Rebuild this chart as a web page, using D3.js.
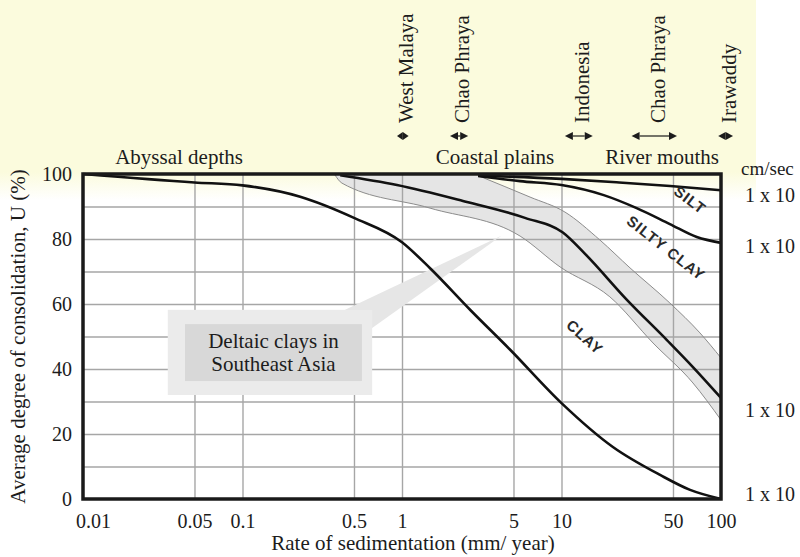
<!DOCTYPE html>
<html>
<head>
<meta charset="utf-8">
<script src="https://cdn.jsdelivr.net/npm/d3@7"></script>
<style>
  body { margin: 0; background: #ffffff; }
  svg { display: block; }
</style>
</head>
<body>
<svg id="chart" width="800" height="557"></svg>
<script>
// Average degree of consolidation vs. rate of sedimentation (log scale)

// ---- axes ----
const xTickValues = [0.01, 0.05, 0.1, 0.5, 1, 5, 10, 50, 100];
const xTickLabels = ["0.01", "0.05", "0.1", "0.5", "1", "5", "10", "50", "100"];
const xGridValues = [0.05, 0.1, 0.5, 1, 5, 10, 50];
const yTickValues = [0, 20, 40, 60, 80, 100];
const yGridValues = [10, 20, 30, 40, 50, 60, 70, 80, 90];

// ---- consolidation curves: [rate mm/year, U %] ----
const uSilt = [[3.0, 99.5], [10, 98.5], [23, 97.4], [48, 96.3], [100, 95.0]];
const uSiltyClay = [[3.0, 99.4], [5.5, 97.8], [10, 96.6], [18.4, 93.5], [29.6, 89.5], [47.8, 84.6], [70.5, 80.6], [100, 78.8]];
const uClay = [[0.41, 99.6], [0.93, 96.6], [2.41, 91.7], [5.9, 86.5], [10.2, 82], [14, 75.5], [25.8, 61.2], [45.8, 48.9], [66.7, 40.6], [100, 31.1]];
const uTightClay = [[0.01, 100], [0.05, 97.4], [0.1, 96.5], [0.23, 93], [0.5, 86.5], [1, 79], [1.5, 71], [2.7, 58], [4.75, 46], [10, 29.5], [21, 16], [41.5, 7.4], [64, 2.8], [100, 0]];

// ---- envelope of deltaic clays ----
const deltaicUpper = [[3.0, 99.5], [6.35, 92.9], [10.5, 88.3], [17.4, 79.7], [26.9, 71.1], [47.8, 60.3], [73.8, 51.1], [100, 43.4]];
const deltaicLower = [[0.38, 99.7], [0.42, 97.2], [1.5, 89.5], [5.5, 80.9], [9.8, 71.4], [20.1, 62.2], [37.5, 48], [66.7, 35.7], [100, 24.3]];

// ---- curve names ----
const curveNames = ["SILT", "SILTY CLAY", "CLAY"];
const curveNameAt = [[64, 92], [45.2, 77.2], [14, 49.8]];
const curveNameAngle = [37, 38, 42];

// ---- permeability labels on the right ----
const permLabels = ["1 x 10", "1 x 10", "1 x 10", "1 x 10"];
const permLabelU = [93.5, 78, 27.5, 1.5];

// ---- environments and deltas above the plot ----
const envNames = ["Abyssal depths", "Coastal plains", "River mouths"];
const envCenters = [0.04, 3.83, 42.7];
const deltaNames = ["West Malaya", "Chao Phraya", "Indonesia", "Chao Phraya", "Irawaddy"];
const deltaRanges = [[0.93, 1.1], [2.0, 2.6], [10.5, 15.7], [27.5, 53], [96, 119]];

// ---- callout ----
const calloutLines = ["Deltaic clays in", "Southeast Asia"];
const calloutOuter = { x0: 0.034, x1: 0.65, u0: 32, u1: 58.2 };
const calloutInner = { x0: 0.0436, x1: 0.561, u0: 36.3, u1: 53.8 };
const calloutPointer = [[0.44, 58.2], [0.65, 52.6], [4.2, 81]];

// ---- layout ----
const width = 800, height = 557;
const plot = { left: 83, right: 721, top: 174, bottom: 499 };
const serif = "'Liberation Serif', 'Times New Roman', serif";
const ink = "#1c1c1c";

const svg = d3.select("#chart");
const x = d3.scaleLog().domain([0.01, 100]).range([plot.left, plot.right]);
const y = d3.scaleLinear().domain([0, 100]).range([plot.bottom, plot.top]);

// pale header tint
const defs = svg.append("defs");
const grad = defs.append("linearGradient").attr("id", "tint")
  .attr("x1", 0).attr("x2", 0).attr("y1", 0).attr("y2", 1);
grad.append("stop").attr("offset", "0%").attr("stop-color", "#fbfbdd");
grad.append("stop").attr("offset", "86%").attr("stop-color", "#fbfbdd");
grad.append("stop").attr("offset", "100%").attr("stop-color", "#fbfbdd").attr("stop-opacity", 0);
svg.append("rect").attr("x", 0).attr("y", 0).attr("width", 756).attr("height", 200)
  .attr("fill", "url(#tint)");

const line = d3.line().x(d => x(d[0])).y(d => y(d[1])).curve(d3.curveMonotoneX);

// deltaic clay envelope (fill)
const bandPath = line(deltaicLower) + "L" + line(deltaicUpper.slice().reverse()).slice(1) + "Z";
svg.append("path").attr("d", bandPath).attr("fill", "#e5e5e5").attr("stroke", "none");

// grid
const gridX = svg.append("g").attr("transform", `translate(0,${plot.bottom})`)
  .call(d3.axisBottom(x).tickValues(xGridValues).tickSize(-(plot.bottom - plot.top)).tickFormat(""));
gridX.select(".domain").remove();
gridX.selectAll("line").attr("stroke", "#a6a6a6").attr("stroke-width", 1.4);

const gridY = svg.append("g").attr("transform", `translate(${plot.left},0)`)
  .call(d3.axisLeft(y).tickValues(yGridValues).tickSize(-(plot.right - plot.left)).tickFormat(""));
gridY.select(".domain").remove();
gridY.selectAll("line").attr("stroke", "#a6a6a6").attr("stroke-width", 1.4);

// envelope edges
[deltaicUpper, deltaicLower].forEach(edge => {
  svg.append("path").attr("d", line(edge)).attr("fill", "none")
    .attr("stroke", "#8c8c8c").attr("stroke-width", 1);
});

// callout
svg.append("polygon")
  .attr("points", calloutPointer.map(p => [x(p[0]), y(p[1])].join(",")).join(" "))
  .attr("fill", "#e6e6e6");
svg.append("rect")
  .attr("x", x(calloutOuter.x0)).attr("y", y(calloutOuter.u1))
  .attr("width", x(calloutOuter.x1) - x(calloutOuter.x0))
  .attr("height", y(calloutOuter.u0) - y(calloutOuter.u1))
  .attr("fill", "#ebebeb");
svg.append("rect")
  .attr("x", x(calloutInner.x0)).attr("y", y(calloutInner.u1))
  .attr("width", x(calloutInner.x1) - x(calloutInner.x0))
  .attr("height", y(calloutInner.u0) - y(calloutInner.u1))
  .attr("fill", "#d8d8d8");
const calloutCx = (x(calloutInner.x0) + x(calloutInner.x1)) / 2;
const calloutCy = (y(calloutInner.u0) + y(calloutInner.u1)) / 2;
svg.append("text")
  .attr("x", calloutCx).attr("y", calloutCy)
  .attr("text-anchor", "middle")
  .attr("font-family", serif).attr("font-size", 21).attr("fill", ink)
  .selectAll("tspan").data(calloutLines).join("tspan")
  .attr("x", calloutCx)
  .attr("dy", (d, i) => i === 0 ? "-0.22em" : "1.1em")
  .text(d => d);

// consolidation curves
[uSilt, uSiltyClay, uClay, uTightClay].forEach(c => {
  svg.append("path").attr("d", line(c)).attr("fill", "none")
    .attr("stroke", "#111").attr("stroke-width", 2.6).attr("stroke-linejoin", "round");
});

// frame
svg.append("rect")
  .attr("x", plot.left).attr("y", plot.top)
  .attr("width", plot.right - plot.left).attr("height", plot.bottom - plot.top)
  .attr("fill", "none").attr("stroke", "#1a1a1a").attr("stroke-width", 3.5);

// curve names
svg.append("g").selectAll("text").data(curveNames).join("text")
  .attr("transform", (d, i) => `translate(${x(curveNameAt[i][0])},${y(curveNameAt[i][1])}) rotate(${curveNameAngle[i]})`)
  .attr("text-anchor", "middle").attr("dy", "0.35em")
  .attr("font-family", "'Liberation Sans', Arial, sans-serif")
  .attr("font-weight", "bold").attr("font-size", 15).attr("letter-spacing", 1)
  .attr("fill", "#2a2a2a")
  .text(d => d);

// x axis
const axX = svg.append("g").attr("transform", `translate(0,${plot.bottom})`)
  .call(d3.axisBottom(x).tickValues(xTickValues).tickSize(0).tickPadding(0)
    .tickFormat((d, i) => xTickLabels[i]));
axX.select(".domain").remove();
axX.selectAll("text")
  .attr("font-family", serif).attr("font-size", 20).attr("fill", ink)
  .attr("dy", null).attr("y", 29)
  .attr("dx", (d, i) => i === 0 ? 10 : 0);

// y axis
const axY = svg.append("g").attr("transform", `translate(${plot.left},0)`)
  .call(d3.axisLeft(y).tickValues(yTickValues).tickSize(0).tickPadding(11));
axY.select(".domain").remove();
axY.selectAll("text").attr("font-family", serif).attr("font-size", 20).attr("fill", ink);

// axis titles
svg.append("text")
  .attr("x", (plot.left + plot.right) / 2 + 11).attr("y", 550)
  .attr("text-anchor", "middle")
  .attr("font-family", serif).attr("font-size", 21).attr("fill", ink)
  .text("Rate of sedimentation (mm/ year)");
svg.append("text")
  .attr("transform", `translate(18,${(plot.top + plot.bottom) / 2}) rotate(-90)`)
  .attr("text-anchor", "middle").attr("dy", "0.35em")
  .attr("font-family", serif).attr("font-size", 21).attr("fill", ink)
  .text("Average degree of consolidation, U (%)");

// permeability scale on the right
svg.append("text").attr("x", plot.right + 20).attr("y", 175)
  .attr("font-family", serif).attr("font-size", 19).attr("fill", ink).text("cm/sec");
svg.append("g").selectAll("text").data(permLabels).join("text")
  .attr("x", plot.right + 24).attr("y", (d, i) => y(permLabelU[i]))
  .attr("dy", "0.35em")
  .attr("font-family", serif).attr("font-size", 20).attr("fill", ink)
  .text(d => d);

// environments
svg.append("g").selectAll("text").data(envNames).join("text")
  .attr("x", (d, i) => x(envCenters[i])).attr("y", 164)
  .attr("text-anchor", "middle")
  .attr("font-family", serif).attr("font-size", 21).attr("fill", ink)
  .text(d => d);

// deltas: rotated names and range arrows
const arrowY = 136, headLen = 8, headHalf = 4;
const deltas = svg.append("g");
deltaRanges.forEach((r, i) => {
  const x1 = x(r[0]), x2 = x(r[1]);
  const h = Math.min(headLen, (x2 - x1) / 2);
  deltas.append("line").attr("x1", x1 + h).attr("x2", x2 - h)
    .attr("y1", arrowY).attr("y2", arrowY)
    .attr("stroke", ink).attr("stroke-width", 1.2);
  deltas.append("polygon")
    .attr("points", `${x1},${arrowY} ${x1 + h},${arrowY - headHalf} ${x1 + h},${arrowY + headHalf}`)
    .attr("fill", ink);
  deltas.append("polygon")
    .attr("points", `${x2},${arrowY} ${x2 - h},${arrowY - headHalf} ${x2 - h},${arrowY + headHalf}`)
    .attr("fill", ink);
  const cx = (x1 + x2) / 2 + 3;
  deltas.append("text")
    .attr("transform", `translate(${cx},123) rotate(-90)`)
    .attr("dy", "0.35em")
    .attr("font-family", serif).attr("font-size", 21).attr("fill", ink)
    .text(deltaNames[i]);
});
</script>
</body>
</html>
